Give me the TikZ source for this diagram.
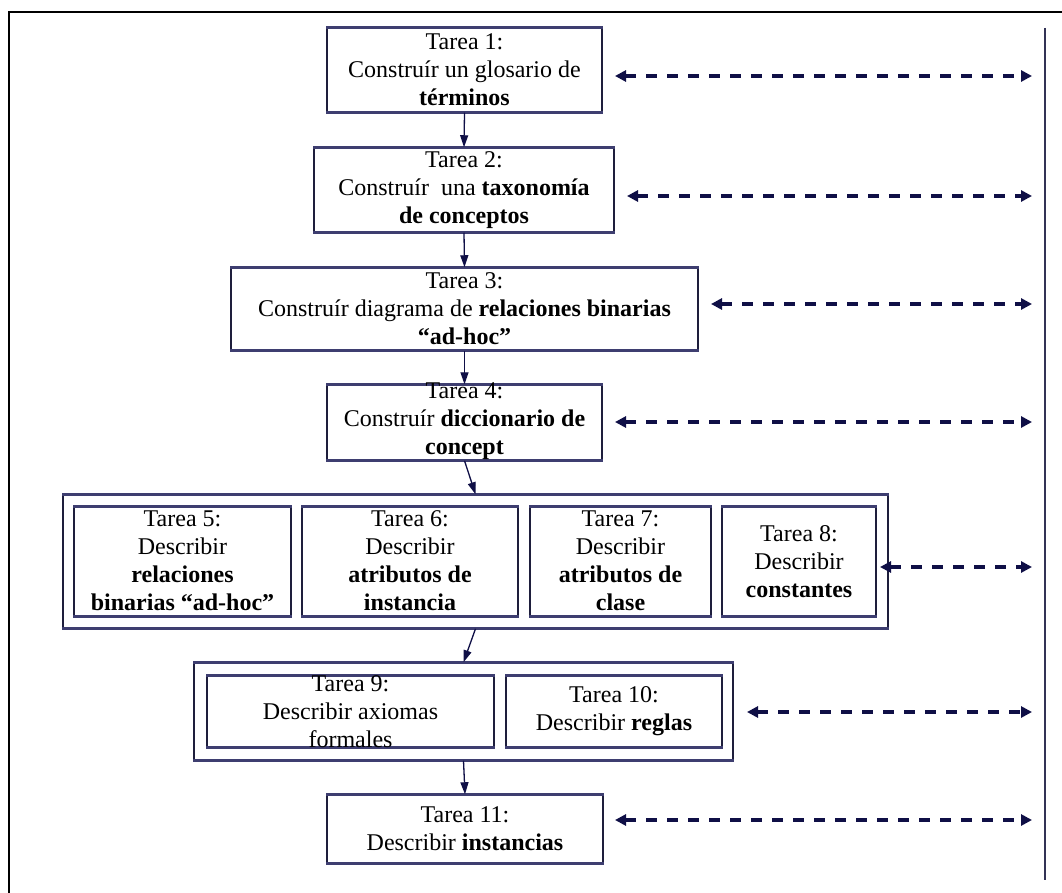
\documentclass[tikz,border=0pt]{standalone}
\usepackage{fontspec}
\setmainfont{Liberation Serif}
\usetikzlibrary{arrows.meta}
\definecolor{boxcol}{RGB}{30,30,60}
\definecolor{edgecol}{RGB}{62,62,112}
\definecolor{arrcol}{RGB}{15,15,70}
\definecolor{railcol}{RGB}{50,50,85}
\begin{document}
\begin{tikzpicture}[x=1pt,y=-1pt,
  taskbox/.style={draw=boxcol, line width=1.5pt, inner sep=0pt, fill=white},
  tasktext/.style={font=\fontsize{24}{28}\selectfont, align=center, inner sep=0pt, text=black},
  edgeline/.style={draw=edgecol, line width=3pt},
  flow/.style={draw=arrcol, line width=1.3pt, -{Triangle[length=12pt,width=8pt]}},
  link/.style={draw=arrcol, line width=3.5pt, dash pattern=on 11pt off 10pt,
    {Triangle[length=11pt,width=11pt]}-{Triangle[length=11pt,width=11pt]}},
  frameline/.style={draw=black, line width=2pt},
  rail/.style={draw=railcol, line width=2.5pt}]
\useasboundingbox (0,0) rectangle (1062,893);
\fill[white] (0,0) rectangle (1062,893);
% outer frame (cropped)
\draw[frameline] (9,900) -- (9,12) -- (1070,12);
% right rail
\coordinate (railtop) at (1045,28);
\coordinate (railbot) at (1045,880);
\draw[rail] (railtop) -- (railbot);

% boxes
\node[taskbox, minimum width=275pt, minimum height=84pt] (b1) at (464.5,70) {};
\node[taskbox, minimum width=300pt, minimum height=84pt] (b2) at (464,190) {};
\node[taskbox, minimum width=467pt, minimum height=82pt] (b3) at (464.5,309) {};
\node[taskbox, minimum width=275pt, minimum height=75pt] (b4) at (464.5,422.5) {};
\node[taskbox, minimum width=825pt, minimum height=133pt] (g1) at (475.5,561.5) {};
\node[taskbox, minimum width=217pt, minimum height=109pt] (b5) at (182.5,561.5) {};
\node[taskbox, minimum width=216pt, minimum height=109pt] (b6) at (410,561.5) {};
\node[taskbox, minimum width=181pt, minimum height=109pt] (b7) at (620.5,561.5) {};
\node[taskbox, minimum width=154pt, minimum height=109pt] (b8) at (799,561.5) {};
\node[taskbox, minimum width=539pt, minimum height=97pt] (g2) at (463.5,711.5) {};
\node[taskbox, minimum width=287pt, minimum height=71pt] (b9) at (350.5,711.5) {};
\node[taskbox, minimum width=216pt, minimum height=71pt] (b10) at (614,711.5) {};
\node[taskbox, minimum width=276pt, minimum height=68pt] (b11) at (465,829) {};

\foreach \n in {b1,b2,b3,b4,g1,b5,b6,b7,b8,g2,b9,b10,b11}{
  \draw[edgeline] (\n.north west) -- (\n.north east);
  \draw[edgeline] (\n.south west) -- (\n.south east);
}

% texts
\node[tasktext] (t1) at (b1.center) {Tarea 1:\\Construír un glosario de\\\textbf{términos}};
\node[tasktext] (t2) at (b2.center) {Tarea 2:\\Construír~ una \textbf{taxonomía}\\\textbf{de conceptos}};
\node[tasktext] (t3) at (b3.center) {Tarea 3:\\Construír diagrama de \textbf{relaciones binarias}\\\textbf{“ad-hoc”}};
\node[tasktext] (t4) at ([yshift=1.5pt]b4.center) {Tarea 4:\\Construír \textbf{diccionario de}\\\textbf{concept}};
\node[tasktext] (t5) at ([yshift=1pt]b5.center) {Tarea 5:\\Describir\\\textbf{relaciones}\\\textbf{binarias “ad-hoc”}};
\node[tasktext] (t6) at ([yshift=1pt]b6.center) {Tarea 6:\\Describir\\\textbf{atributos de}\\\textbf{instancia}};
\node[tasktext] (t7) at ([yshift=1pt]b7.center) {Tarea 7:\\Describir\\\textbf{atributos de}\\\textbf{clase}};
\node[tasktext] (t8) at (b8.center) {Tarea 8:\\Describir\\\textbf{constantes}};
\node[tasktext] (t9) at (b9.center) {Tarea 9:\\Describir axiomas\\formales};
\node[tasktext] (t10) at (b10.center) {Tarea 10:\\Describir \textbf{reglas}};
\node[tasktext] (t11) at (b11.center) {Tarea 11:\\Describir \textbf{instancias}};

% flow arrows
\draw[flow] (b1.south) -- (b2.north);
\draw[flow] (b2.south) -- (b3.north);
\draw[flow] (b3.south) -- (b4.north);
\draw[flow] (b4.south) -- (g1.north);
\draw[flow] (g1.south) -- (g2.north);
\draw[flow] (g2.south) -- (b11.north);

% dashed links to the rail
\coordinate (l1) at (615,76);   \coordinate (r1) at (1032,76);
\coordinate (l2) at (627,196);  \coordinate (r2) at (1032,196);
\coordinate (l3) at (711,304);  \coordinate (r3) at (1032,304);
\coordinate (l4) at (615,422);  \coordinate (r4) at (1032,422);
\coordinate (l5) at (880,567);  \coordinate (r5) at (1032,567);
\coordinate (l6) at (747,712);  \coordinate (r6) at (1032,712);
\coordinate (l7) at (615,820);  \coordinate (r7) at (1032,820);
\foreach \i in {1,...,7}{
  \draw[link] (l\i) -- (r\i);
}
\end{tikzpicture}
\end{document}
